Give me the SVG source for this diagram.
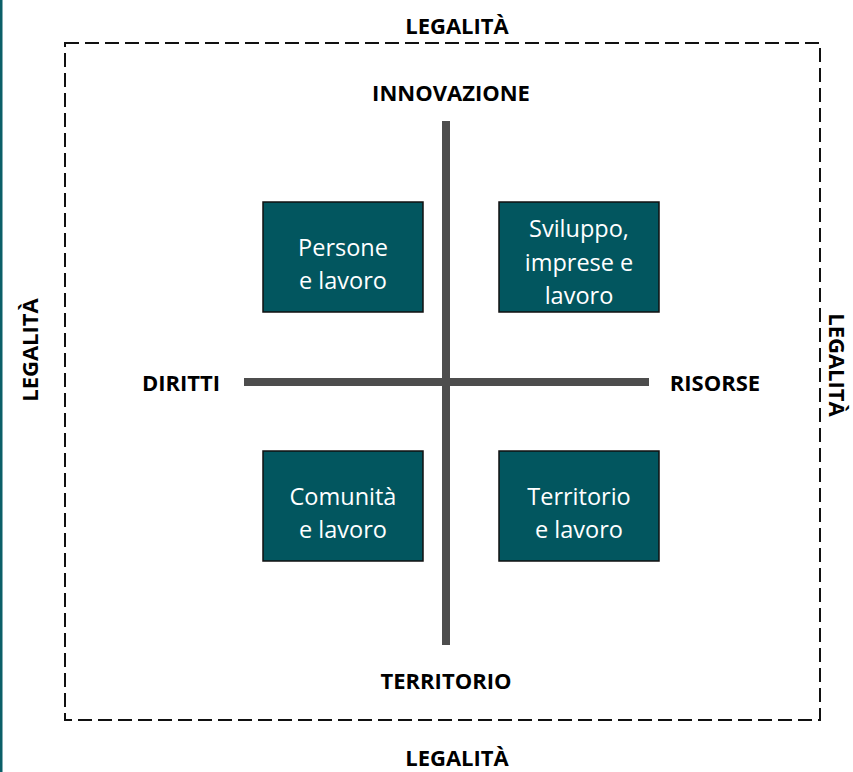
<svg xmlns="http://www.w3.org/2000/svg" width="853" height="772" viewBox="0 0 853 772">
<style>
.lbl{font-family:"Open Sans","Liberation Sans",sans-serif;font-weight:bold;font-size:22px;fill:#000;text-anchor:middle;dominant-baseline:central}
.box{fill:#02565f;stroke:#111;stroke-width:1.5}
.bt{font-family:"Open Sans","Liberation Sans",sans-serif;font-size:23.5px;fill:#fff;text-anchor:middle;dominant-baseline:central}
.axis{stroke:#4d4d4d;stroke-width:8}
</style>
<rect width="853" height="772" fill="#fff"/>
<rect x="0" y="0" width="2.5" height="772" fill="#0b5f68"/>
<rect x="65" y="43" width="755" height="677" fill="none" stroke="#111" stroke-width="2" stroke-dasharray="14,6"/>
<g id="labels">
<text class="lbl" x="457" y="25">LEGALITÀ</text>
<text class="lbl" x="457" y="757">LEGALITÀ</text>
<text class="lbl" transform="translate(29,350) rotate(-90)">LEGALITÀ</text>
<text class="lbl" transform="translate(838,365) rotate(90)">LEGALITÀ</text>
<text class="lbl" x="451" y="92">INNOVAZIONE</text>
<text class="lbl" x="446" y="680">TERRITORIO</text>
<text class="lbl" x="181" y="382">DIRITTI</text>
<text class="lbl" x="715" y="382">RISORSE</text>
</g>
<g id="connectors">
<line class="axis" x1="244" y1="382" x2="649" y2="382"/>
<line class="axis" x1="446" y1="121" x2="446" y2="645"/>
</g>
<g id="persone">
<rect class="box" x="263" y="202" width="160" height="110"/>
<text class="bt" x="343" y="247">Persone</text>
<text class="bt" x="343" y="280">e lavoro</text>
</g>
<g id="sviluppo">
<rect class="box" x="499" y="202" width="160" height="110"/>
<text class="bt" x="579" y="228">Sviluppo,</text>
<text class="bt" x="579" y="262">imprese e</text>
<text class="bt" x="579" y="295">lavoro</text>
</g>
<g id="comunita">
<rect class="box" x="263" y="451" width="160" height="110"/>
<text class="bt" x="343" y="496">Comunità</text>
<text class="bt" x="343" y="529">e lavoro</text>
</g>
<g id="territorio">
<rect class="box" x="499" y="451" width="160" height="110"/>
<text class="bt" x="579" y="496">Territorio</text>
<text class="bt" x="579" y="529">e lavoro</text>
</g>
</svg>
